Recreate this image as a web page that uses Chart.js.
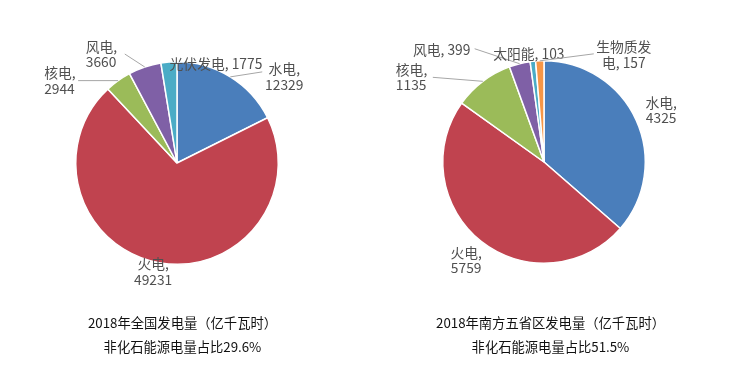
<!DOCTYPE html>
<html>
<head>
<meta charset="utf-8">
<script src="https://cdn.jsdelivr.net/npm/chart.js@4.4.0/dist/chart.umd.min.js"></script>
<style>
    body { margin: 0; background: #fff; width: 750px; height: 386px; position: relative; overflow: hidden; }
    .box { position: absolute; top: 0; width: 375px; height: 386px; }
    .title { position: absolute; width: 375px; text-align: center; font-family: "Noto Sans CJK SC", sans-serif; font-size: 13.3px; color: #111; line-height: 24px; }
</style>
</head>
<body>
<div class="box" style="left:0"><canvas id="chartNational"></canvas></div>
<div class="box" style="left:375px"><canvas id="chartSouth"></canvas></div>
<div class="title" style="left:-5px; top:311px">2018年全国发电量（亿千瓦时）<br>非化石能源电量占比29.6%</div>
<div class="title" style="left:363px; top:311px">2018年南方五省区发电量（亿千瓦时）<br>非化石能源电量占比51.5%</div>
<script>
"use strict";

// data
let nationalLabels = ["水电", "火电", "核电", "风电", "光伏发电"];
let nationalValues = [12329, 49231, 2944, 3660, 1775];

let southLabels = ["水电", "火电", "核电", "风电", "太阳能", "生物质发电"];
let southValues = [4325, 5759, 1135, 399, 103, 157];

let nationalColors = ["#4A7EBB", "#C0434F", "#9BBB59", "#7F60A6", "#4BACC6"];
let southColors = ["#4A7EBB", "#C0434F", "#9BBB59", "#7F60A6", "#4BACC6", "#F79646"];

// label placement: offset of label centre from slice edge, optional leader line end
let nationalPlace = [
    { lines: ["水电,", "12329"], dx: 54, dy: 0, line: [32, -5] },
    { lines: ["火电,", "49231"], dx: -6, dy: 9, line: null },
    { lines: ["核电,", "2944"], dx: -57, dy: 0, line: [-40, 0], align: "left", w: 34 },
    { lines: ["风电,", "3660"], dx: -42, dy: -13, line: [-20, -13], align: "left", w: 34 },
    { lines: ["光伏发电, 1775"], dx: 47, dy: 2, line: null }
];
let southPlace = [
    { lines: ["水电,", "4325"], dx: 25, dy: -10, line: null },
    { lines: ["火电,", "5759"], dx: -15, dy: 19, line: null },
    { lines: ["核电,", "1135"], dx: -70, dy: -4, line: [-50, -4], align: "left", w: 34 },
    { lines: ["风电, 399"], dx: -78, dy: -14, line: [-45, -15] },
    { lines: ["太阳能, 103"], dx: -4, dy: -8, line: null },
    { lines: ["生物质发", "电, 157"], dx: 84, dy: -6, line: [54, -7] }
];

let pieLabels = {
    id: "pieLabels",
    afterDatasetsDraw: function (chart, args, opts) {
        let ctx = chart.ctx;
        let meta = chart.getDatasetMeta(0);
        ctx.save();
        ctx.font = "13.8px 'Noto Sans CJK SC', sans-serif";
        ctx.fillStyle = "#505050";
        ctx.strokeStyle = "#A6A6A6";
        ctx.lineWidth = 1;
        ctx.textBaseline = "middle";
        meta.data.forEach(function (arc, i) {
            let p = opts.place[i];
            let a = (arc.startAngle + arc.endAngle) / 2;
            let ex = arc.x + Math.cos(a) * arc.outerRadius;
            let ey = arc.y + Math.sin(a) * arc.outerRadius;
            if (p.line) {
                ctx.beginPath();
                ctx.moveTo(ex, ey);
                ctx.lineTo(ex + p.line[0], ey + p.line[1]);
                ctx.stroke();
            }
            let cx = ex + p.dx;
            let cy = ey + p.dy;
            let lh = 15.5;
            let y0 = cy - (p.lines.length - 1) * lh / 2;
            p.lines.forEach(function (t, k) {
                if (p.align === "left") {
                    ctx.textAlign = "left";
                    ctx.fillText(t, cx - p.w / 2, y0 + k * lh);
                } else {
                    ctx.textAlign = "center";
                    ctx.fillText(t, cx, y0 + k * lh);
                }
            });
        });
        ctx.restore();
    }
};

function makePie(id, labels, values, colors, place, pad) {
    return new Chart(document.getElementById(id), {
        type: "pie",
        data: {
            labels: labels,
            datasets: [{
                data: values,
                backgroundColor: colors,
                borderColor: "#ffffff",
                borderWidth: 1.5
            }]
        },
        options: {
            responsive: false,
            animation: false,
            layout: { padding: pad },
            plugins: {
                legend: { display: false },
                tooltip: { enabled: false },
                pieLabels: { place: place }
            }
        },
        plugins: [pieLabels]
    });
}

document.querySelectorAll("canvas").forEach(function (c) {
    c.width = 375;
    c.height = 386;
});

makePie("chartNational", nationalLabels, nationalValues, nationalColors, nationalPlace,
    { left: 75, right: 96, top: 61, bottom: 121 });
makePie("chartSouth", southLabels, southValues, southColors, southPlace,
    { left: 67, right: 104, top: 60, bottom: 122 });
</script>
</body>
</html>
